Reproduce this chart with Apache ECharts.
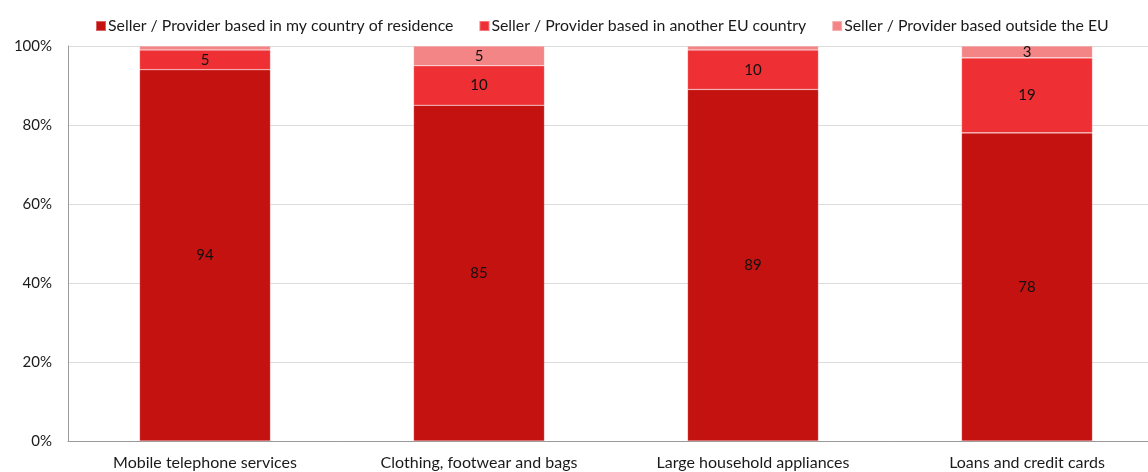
<!DOCTYPE html>
<html>
<head>
<meta charset="utf-8">
<script src="https://cdn.jsdelivr.net/npm/echarts@6/dist/echarts.min.js"></script>
<style>
  html, body { margin: 0; padding: 0; background: #fff; overflow: hidden; }
  /* the plot runs on past the right edge of the page, so the chart is a bit wider than the window */
  #chart { width: 1164px; height: 472px; }
</style>
</head>
<body>
<div id="chart"></div>
<script>
// Where the seller / provider of the purchase was based (% of respondents)
const categories = [
  'Mobile telephone services',
  'Clothing, footwear and bags',
  'Large household appliances',
  'Loans and credit cards'
];
const seriesNames = [
  'Seller / Provider based in my country of residence',
  'Seller / Provider based in another EU country',
  'Seller / Provider based outside the EU'
];
const homeCountry = [94, 85, 89, 78];
const otherEU = [5, 10, 10, 19];
const outsideEU = [1, 5, 1, 3];
const yTicks = [0, 20, 40, 60, 80, 100];

const colors = ['#C41210', '#EE3034', '#F38587'];
const FONT = 'Lato, "Liberation Sans", sans-serif';

// values this small leave no room for a label inside the segment
function withLabels(values) {
  return values.map(v => ({ value: v, label: { show: v >= 3 } }));
}

const chart = echarts.init(document.getElementById('chart'));
chart.setOption({
  animation: false,
  textStyle: { fontFamily: FONT },
  legend: {
    left: 95,
    top: 18,
    padding: 0,
    itemWidth: 10,
    itemHeight: 10,
    itemGap: 25,
    icon: 'rect',
    textStyle: { fontFamily: FONT, fontSize: 15.85, color: '#1a1a1a', padding: [0, 0, 0, -3] },
    data: seriesNames
  },
  grid: { left: 68, top: 46, bottom: 31, right: 0, containLabel: false },
  xAxis: {
    type: 'category',
    data: categories,
    axisLine: { lineStyle: { color: '#999', width: 1 } },
    axisTick: { show: false },
    axisLabel: { fontFamily: FONT, fontSize: 16, color: '#1a1a1a', margin: 14 }
  },
  yAxis: {
    type: 'value',
    min: 0,
    max: 100,
    interval: 20,
    axisLine: { show: true, lineStyle: { color: '#999', width: 1 } },
    axisTick: { show: false },
    splitLine: { lineStyle: { color: '#dcdcdc', width: 1 } },
    axisLabel: {
      fontFamily: FONT, fontSize: 15, color: '#1a1a1a', margin: 16,
      formatter: v => yTicks.includes(v) ? v + '%' : ''
    }
  },
  series: [homeCountry, otherEU, outsideEU].map((vals, i) => ({
    name: seriesNames[i],
    type: 'bar',
    stack: 'total',
    barWidth: 131,
    itemStyle: { color: colors[i], borderColor: 'rgba(255,255,255,0.35)', borderWidth: 0.6 },
    label: {
      show: true,
      position: 'inside',
      color: '#111',
      fontFamily: FONT,
      fontSize: 15
    },
    data: withLabels(vals)
  }))
});
</script>
</body>
</html>
